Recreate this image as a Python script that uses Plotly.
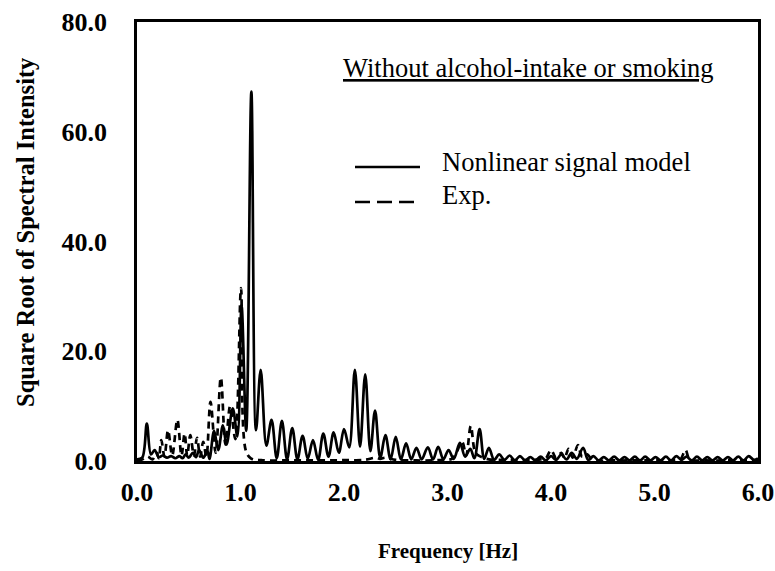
import plotly.graph_objects as go

# ---- data ----
model_freq = [0.00, 0.05, 0.095, 0.135, 0.17, 0.21, 0.25, 0.29, 0.33, 0.37, 0.41, 0.44, 0.47, 0.50,
              0.54, 0.57, 0.60, 0.64, 0.68, 0.70, 0.745, 0.785, 0.83, 0.865, 0.925, 0.97, 1.01, 1.055,
              1.105, 1.15, 1.195, 1.25, 1.30, 1.35, 1.40, 1.45, 1.50, 1.55, 1.60, 1.65, 1.70, 1.75,
              1.80, 1.85, 1.90, 1.95, 2.00, 2.05, 2.105, 2.155, 2.205, 2.255, 2.30, 2.35, 2.40, 2.45,
              2.50, 2.55, 2.60, 2.65, 2.70, 2.75, 2.81, 2.86, 2.91, 2.96, 3.01, 3.06, 3.12, 3.17,
              3.22, 3.26, 3.31, 3.355, 3.40, 3.45, 3.50, 3.55, 3.60, 3.65, 3.70, 3.75, 3.80, 3.85,
              3.90, 3.95, 4.00, 4.05, 4.10, 4.15, 4.20, 4.25, 4.31, 4.36, 4.41, 4.46, 4.51, 4.56,
              4.61, 4.66, 4.71, 4.76, 4.81, 4.86, 4.91, 4.96, 5.01, 5.06, 5.11, 5.16, 5.21, 5.26,
              5.31, 5.36, 5.41, 5.46, 5.51, 5.56, 5.61, 5.66, 5.71, 5.76, 5.81, 5.86, 5.91, 5.96, 6.00]
model_amp = [0.3, 0.6, 6.8, 1.2, 2.0, 0.7, 1.0, 0.6, 0.9, 0.5, 0.9, 0.5, 1.2, 0.6,
             1.5, 0.7, 2.0, 0.6, 1.8, 0.4, 5.5, 2.0, 6.5, 3.0, 9.6, 4.5, 28.4, 5.5,
             67.3, 5.6, 16.6, 2.8, 7.5, 0.5, 7.3, 0.3, 6.0, 0.3, 4.6, 0.4, 3.8, 0.2,
             5.0, 0.8, 5.2, 1.5, 5.8, 2.5, 16.6, 2.6, 15.8, 1.8, 9.2, 0.6, 4.7, 0.3,
             4.4, 0.3, 3.2, 0.3, 2.4, 0.3, 2.5, 0.3, 2.6, 0.3, 2.0, 0.4, 3.3, 0.8,
             2.2, 0.5, 5.8, 0.4, 2.4, 0.2, 1.2, 0.2, 1.0, 0.1, 0.9, 0.1, 0.7, 0.1,
             0.8, 0.1, 0.9, 0.2, 1.2, 0.3, 1.5, 0.4, 2.4, 0.2, 0.9, 0.1, 0.7, 0.1,
             0.8, 0.1, 0.7, 0.1, 0.8, 0.1, 0.8, 0.1, 0.7, 0.1, 0.8, 0.1, 0.9, 0.2,
             0.8, 0.1, 0.8, 0.1, 0.7, 0.1, 0.7, 0.1, 0.7, 0.1, 0.8, 0.1, 0.9, 0.2, 0.5]

exp_freq = [0.00, 0.05, 0.10, 0.15, 0.19, 0.21, 0.235, 0.265, 0.30, 0.34, 0.39, 0.43, 0.46, 0.485,
            0.515, 0.55, 0.58, 0.61, 0.64, 0.67, 0.71, 0.76, 0.81, 0.855, 0.90, 0.95, 1.005, 1.05,
            1.10, 1.20, 1.40, 1.60, 1.80, 2.00, 2.20, 2.30, 2.35, 2.40, 2.50, 2.70, 2.90, 3.05,
            3.14, 3.18, 3.225, 3.27, 3.32, 3.40, 3.50, 3.60, 3.70, 3.80, 3.90, 3.95, 4.00, 4.05,
            4.10, 4.13, 4.17, 4.21, 4.26, 4.30, 4.35, 4.40, 4.60, 4.80, 5.00, 5.20, 5.25, 5.30,
            5.34, 5.50, 5.70, 6.00]
exp_amp = [0.2, 0.3, 0.8, 0.3, 1.5, 0.5, 3.8, 0.8, 5.6, 1.0, 7.5, 1.0, 5.0, 1.0,
           4.7, 1.0, 4.2, 0.8, 3.5, 0.8, 10.8, 1.5, 15.2, 3.0, 10.0, 4.0, 31.5, 2.0,
           0.5, 0.15, 0.1, 0.1, 0.1, 0.15, 0.2, 0.6, 0.4, 0.6, 0.2, 0.1, 0.15, 0.5,
           3.5, 1.0, 6.4, 1.5, 0.8, 0.3, 0.2, 0.15, 0.15, 0.2, 0.3, 0.5, 2.0, 0.6,
           1.5, 0.5, 2.2, 0.6, 2.9, 0.8, 1.2, 0.2, 0.1, 0.1, 0.1, 0.15, 0.3, 2.0,
           0.3, 0.1, 0.1, 0.1]

x_ticks = [0, 1, 2, 3, 4, 5, 6]
y_ticks = [0, 20, 40, 60, 80]

FONT = "Liberation Serif"
W, H = 775, 571
L, R, T, B = 137, 17, 22, 110
PW, PH = W - L - R, H - T - B


def px(xp):
    return (xp - L) / PW


def py(yp):
    return (H - B - yp) / PH


fig = go.Figure()
fig.add_trace(go.Scatter(x=exp_freq, y=exp_amp, mode="lines", name="Exp.",
                         line=dict(color="black", width=2.7, dash="7px,5px", shape="spline")))
fig.add_trace(go.Scatter(x=model_freq, y=model_amp, mode="lines", name="Nonlinear signal model",
                         line=dict(color="black", width=2.7, shape="spline")))

axis_common = dict(showline=True, linecolor="black", linewidth=2.5, mirror=True,
                   showgrid=False, zeroline=False, ticks="", automargin=False,
                   tickfont=dict(family=FONT, size=26, color="black", weight="bold"))
fig.update_xaxes(range=[0, 6], tickvals=x_ticks, ticktext=[f"{v:.1f}" for v in x_ticks],
                 ticklabelstandoff=6, **axis_common)
fig.update_yaxes(range=[0, 80], tickvals=y_ticks, ticktext=[f"{v:.1f}" for v in y_ticks],
                 ticklabelstandoff=22, **axis_common)

annotations = [
    dict(text="<b>Square Root of Spectral Intensity</b>", x=px(26), y=py(232), textangle=-90,
         font=dict(family=FONT, size=24.5, color="black")),
    dict(text="<b>Frequency [Hz]</b>", x=px(448), y=py(551),
         font=dict(family=FONT, size=21, color="black")),
    dict(text="<u>Without alcohol-intake or smoking</u>", x=px(528), y=py(68),
         font=dict(family=FONT, size=26.5, color="black")),
    dict(text="Nonlinear signal model", x=px(440), y=py(162), xanchor="left",
         font=dict(family=FONT, size=26.5, color="black")),
    dict(text="Exp.", x=px(440), y=py(195), xanchor="left",
         font=dict(family=FONT, size=26.5, color="black")),
]
for a in annotations:
    a.update(xref="paper", yref="paper", showarrow=False)
    a.setdefault("xanchor", "center")
    a.setdefault("yanchor", "middle")

shapes = [
    dict(type="line", xref="paper", yref="paper", x0=px(355), x1=px(420), y0=py(167), y1=py(167),
         line=dict(color="black", width=2.5)),
    dict(type="line", xref="paper", yref="paper", x0=px(355), x1=px(417), y0=py(202), y1=py(202),
         line=dict(color="black", width=2.5, dash="15px,7px")),
]

fig.update_layout(width=W, height=H, margin=dict(l=L, r=R, t=T, b=B, autoexpand=False),
                  paper_bgcolor="white", plot_bgcolor="white", showlegend=False,
                  annotations=annotations, shapes=shapes)

fig.write_html("out.html")
